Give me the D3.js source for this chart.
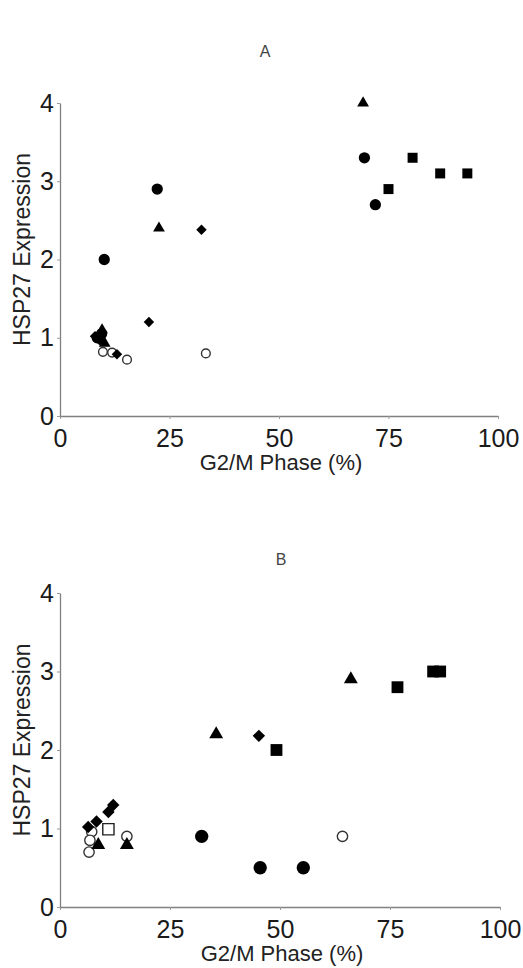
<!DOCTYPE html>
<html>
<head>
<meta charset="utf-8">
<script src="https://cdn.jsdelivr.net/npm/d3@7"></script>
<style>
  body { margin: 0; background: #fff; }
  svg { display: block; font-family: "Liberation Sans", Arial, sans-serif; }
</style>
</head>
<body>
<svg id="chart" width="523" height="968"></svg>
<script>
// axis ticks
var xTicks = [0, 25, 50, 75, 100];
var yTicks = [0, 1, 2, 3, 4];

// panel A  [G2/M %, HSP27]
var aCircles = [[69.5, 3.3], [72, 2.7], [22.2, 2.9], [10.1, 2.0], [8.5, 1.0], [9.5, 1.05]];
var aSquares = [[75, 2.9], [80.5, 3.3], [86.8, 3.1], [93, 3.1]];
var aTriangles = [[69.2, 4.0], [22.6, 2.4], [9.6, 1.1], [10.2, 0.93]];
var aDiamonds = [[32.3, 2.38], [20.3, 1.2], [8, 1.02], [9, 0.97], [13, 0.79]];
var aOpenCircles = [[9.8, 0.82], [11.9, 0.81], [15.3, 0.72], [33.3, 0.8]];

// panel B
var bCircles = [[32.2, 0.9], [45.5, 0.5], [55.3, 0.5]];
var bSquares = [[49.2, 2.0], [76.7, 2.8], [84.8, 3.0], [86.4, 3.0]];
var bTriangles = [[66.1, 2.9], [35.5, 2.2], [8.7, 0.79], [15.2, 0.79]];
var bDiamonds = [[45.2, 2.18], [6.4, 1.02], [8.3, 1.09], [11, 1.21], [12.1, 1.3]];
var bOpenCircles = [[64.2, 0.9], [15.2, 0.9], [7.2, 0.96], [6.8, 0.85], [6.6, 0.7]];
var bOpenSquares = [[11, 0.99]];

var svg = d3.select("#chart");

function panel(opt) {
  var g = svg.append("g").attr("transform", "translate(" + opt.left + "," + opt.top + ")");
  var w = opt.width, h = opt.height, k = opt.k;

  var x = d3.scaleLinear().domain([0, 100]).range([0, w]);
  var y = d3.scaleLinear().domain([0, 4]).range([h, 0]);

  // axes
  var xAxis = d3.axisBottom(x).tickValues(xTicks).tickFormat(d3.format("d"))
    .tickSizeInner(3).tickSizeOuter(0).tickPadding(10);
  var yAxis = d3.axisLeft(y).tickValues(yTicks).tickFormat(d3.format("d"))
    .tickSizeInner(3).tickSizeOuter(0).tickPadding(4);

  var gx = g.append("g").attr("transform", "translate(0," + h + ")").call(xAxis);
  var gy = g.append("g").call(yAxis);
  [gx, gy].forEach(function (a) {
    a.select(".domain").attr("stroke", "#808080").attr("stroke-width", 1.3);
    a.selectAll(".tick line").attr("stroke", "#9a9a9a");
    a.selectAll(".tick text")
      .attr("fill", "#1a1a1a")
      .style("font-size", "25px")
      .style("font-family", "Liberation Sans, Arial, sans-serif");
  });
  gx.selectAll(".tick text").attr("dy", "0.71em");
  gy.selectAll(".tick text").attr("dx", "1px");

  // titles
  g.append("text")
    .attr("x", opt.titleX)
    .attr("y", opt.titleY)
    .attr("text-anchor", "middle")
    .attr("fill", "#444")
    .style("font-size", "16px")
    .text(opt.title);

  g.append("text")
    .attr("x", w / 2 + 2)
    .attr("y", h + 54)
    .attr("text-anchor", "middle")
    .attr("fill", "#222")
    .style("font-size", "22px")
    .text("G2/M Phase (%)");

  g.append("text")
    .attr("transform", "translate(-30," + (h / 2 - 10) + ") rotate(-90)")
    .attr("text-anchor", "middle")
    .attr("fill", "#222")
    .style("font-size", "23px")
    .text("HSP27 Expression");

  function draw(data, type, size, fill, stroke, rot) {
    g.selectAll(null)
      .data(data)
      .enter()
      .append("path")
      .attr("d", d3.symbol().type(type).size(size))
      .attr("transform", function (d) {
        return "translate(" + x(d[0]) + "," + y(d[1]) + ")" + (rot ? " rotate(" + rot + ")" : "");
      })
      .attr("fill", fill)
      .attr("stroke", stroke || "none")
      .attr("stroke-width", 1.4);
  }

  draw(opt.openCircles, d3.symbolCircle, 60 * k, "#fff", "#333");
  draw(opt.openSquares, d3.symbolSquare, 90 * k, "#fff", "#222");
  draw(opt.squares, d3.symbolSquare, 100 * k, "#000");
  draw(opt.circles, d3.symbolCircle, 100 * k, "#000");
  draw(opt.triangles, d3.symbolTriangle, 60 * k, "#000");
  draw(opt.diamonds, d3.symbolSquare, 55 * k, "#000", null, 45);
}

panel({
  left: 60, top: 103, width: 438, height: 313, k: 1,
  title: "A", titleX: 205, titleY: -46,
  circles: aCircles, squares: aSquares, triangles: aTriangles,
  diamonds: aDiamonds, openCircles: aOpenCircles, openSquares: []
});

panel({
  left: 60, top: 593, width: 440, height: 314, k: 1.4,
  title: "B", titleX: 221, titleY: -28,
  circles: bCircles, squares: bSquares, triangles: bTriangles,
  diamonds: bDiamonds, openCircles: bOpenCircles, openSquares: bOpenSquares
});
</script>
</body>
</html>
